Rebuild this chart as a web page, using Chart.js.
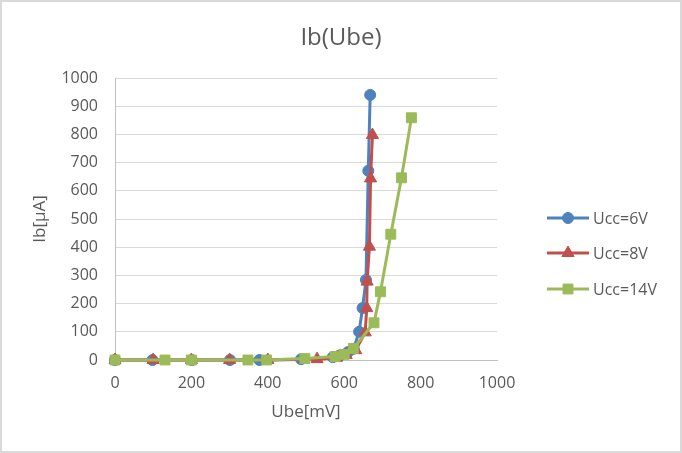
<!DOCTYPE html>
<html>
<head>
<meta charset="utf-8">
<script src="https://cdn.jsdelivr.net/npm/chart.js@4/dist/chart.umd.min.js"></script>
<style>
  html, body { margin: 0; padding: 0; background: #ffffff; }
  #wrap { width: 682px; height: 453px; position: relative; }
</style>
</head>
<body>
<div id="wrap"><canvas id="c" width="682" height="453"></canvas></div>
<script>
// ---- data ----
const seriesNames = ["Ucc=6V", "Ucc=8V", "Ucc=14V"];
const ubeU6  = [0, 98, 201, 301, 378, 487, 570, 590, 610, 625, 639, 648, 657, 663, 668];
const ibU6   = [0, 0, 0, 0, 0, 3, 10, 17, 28, 40, 100, 184, 284, 671, 940];
const ubeU8  = [0, 100, 200, 300, 400, 529, 580, 605, 630, 655, 659, 660, 666, 669, 674];
const ibU8   = [0, 0, 0, 0, 0, 3, 8, 18, 35, 98, 184, 278, 402, 644, 798];
const ubeU14 = [0, 131, 200, 348, 397, 497, 576, 600, 624, 678, 695, 722, 750, 776];
const ibU14  = [0, 0, 0, 0, 0, 5, 12, 20, 41, 132, 242, 446, 646, 859];
const xTicks = [0, 200, 400, 600, 800, 1000];
const yTicks = [0, 100, 200, 300, 400, 500, 600, 700, 800, 900, 1000];
const chartTitle = "Ib(Ube)";
const xTitle = "Ube[mV]";
const yTitle = "Ib[µA]";

const colors = ["#4F81BD", "#C0504D", "#9BBB59"];
const styles = ["circle", "triangle", "rect"];
const radii = [5.5, 7, 7];
const textColor = "#595959";
const fontFamily = "'Open Sans', 'DejaVu Sans', sans-serif";

function pts(xs, ys) { return xs.map((x, i) => ({ x: x, y: ys[i] })); }
const allX = [ubeU6, ubeU8, ubeU14];
const allY = [ibU6, ibU8, ibU14];

const datasets = seriesNames.map((name, i) => ({
  label: name,
  data: pts(allX[i], allY[i]),
  borderColor: colors[i],
  backgroundColor: colors[i],
  borderWidth: 3,
  pointStyle: styles[i],
  pointRadius: radii[i],
  pointBorderWidth: 1,
  pointBorderColor: colors[i],
  pointBackgroundColor: colors[i],
  tension: 0,
  fill: false,
  clip: false,
  order: 2 - i
}));

function drawMarker(ctx, style, x, y, r, color) {
  ctx.save();
  ctx.fillStyle = color;
  ctx.strokeStyle = color;
  ctx.lineWidth = 1;
  ctx.beginPath();
  if (style === "circle") {
    ctx.arc(x, y, r, 0, Math.PI * 2);
  } else if (style === "triangle") {
    const a = Math.PI * 2 / 3;
    ctx.moveTo(x, y - r);
    ctx.lineTo(x + Math.sin(a) * r, y - Math.cos(a) * r);
    ctx.lineTo(x + Math.sin(2 * a) * r, y - Math.cos(2 * a) * r);
    ctx.closePath();
  } else {
    const s = r * Math.SQRT1_2;
    ctx.rect(x - s, y - s, 2 * s, 2 * s);
  }
  ctx.fill();
  ctx.stroke();
  ctx.restore();
}

const decorPlugin = {
  id: "decor",
  afterDraw(chart) {
    const ctx = chart.ctx;
    ctx.save();
    // outer border
    ctx.strokeStyle = "#D9D9D9";
    ctx.lineWidth = 2;
    ctx.strokeRect(1, 1, 680, 451);
    // title
    ctx.fillStyle = textColor;
    ctx.font = "24px " + fontFamily;
    ctx.textAlign = "center";
    ctx.textBaseline = "middle";
    ctx.fillText(chartTitle, 341, 38);
    // legend
    const rows = [218, 253, 289];
    ctx.font = "16px " + fontFamily;
    ctx.textAlign = "left";
    chart.data.datasets.forEach((ds, i) => {
      const y = rows[i];
      ctx.strokeStyle = ds.borderColor;
      ctx.lineWidth = 3;
      ctx.beginPath();
      ctx.moveTo(547, y);
      ctx.lineTo(589, y);
      ctx.stroke();
      drawMarker(ctx, ds.pointStyle, 568, y, ds.pointRadius, ds.borderColor);
      ctx.fillStyle = textColor;
      ctx.fillText(ds.label, 593, y + 1);
    });
    ctx.restore();
  }
};

new Chart(document.getElementById("c"), {
  type: "line",
  data: { datasets: datasets },
  options: {
    responsive: false,
    animation: false,
    devicePixelRatio: 1,
    layout: { padding: { top: 78, right: 185, bottom: 0, left: 0 } },
    plugins: {
      legend: { display: false },
      title: { display: false },
      tooltip: { enabled: false }
    },
    scales: {
      x: {
        type: "linear",
        min: 0,
        max: 1000,
        afterBuildTicks: (s) => { s.ticks = xTicks.map(v => ({ value: v })); },
        afterFit: (s) => { s.height = 93; },
        ticks: {
          color: textColor,
          font: { size: 16, family: fontFamily },
          padding: 14,
          maxRotation: 0,
          callback: (v) => String(v)
        },
        grid: { display: false, drawTicks: false },
        border: { display: true, color: "#BFBFBF", width: 1 },
        title: {
          display: true,
          text: xTitle,
          color: textColor,
          font: { size: 17, family: fontFamily },
          padding: { top: 0, bottom: 31 }
        }
      },
      y: {
        type: "linear",
        min: 0,
        max: 1000,
        afterBuildTicks: (s) => { s.ticks = yTicks.map(v => ({ value: v })); },
        afterFit: (s) => { s.width = 115; },
        ticks: {
          color: textColor,
          font: { size: 16, family: fontFamily },
          padding: 17,
          callback: (v) => String(v)
        },
        grid: { color: "#D9D9D9", lineWidth: 1, drawTicks: false },
        border: { display: true, color: "#BFBFBF", width: 1 },
        title: {
          display: true,
          text: yTitle,
          color: textColor,
          font: { size: 17, family: fontFamily },
          padding: { top: 30, bottom: 0 }
        }
      }
    }
  },
  plugins: [decorPlugin]
});
</script>
</body>
</html>
